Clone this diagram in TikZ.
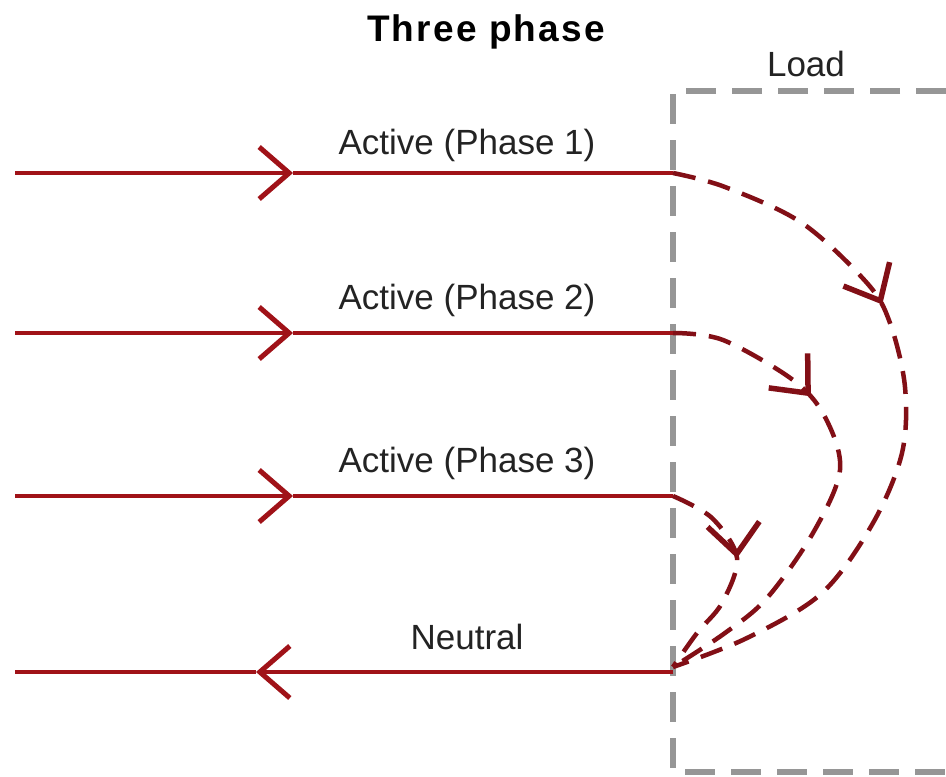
\documentclass[tikz,border=0pt]{standalone}
\usepackage{fontspec}
\setmainfont{Liberation Sans}
\newfontfamily\titlefont[LetterSpace=6]{Liberation Sans}
\usetikzlibrary{arrows.meta,decorations.markings}
\definecolor{wirec}{RGB}{160,18,24}
\definecolor{retc}{RGB}{130,15,22}
\definecolor{boxgray}{RGB}{150,150,150}
\definecolor{txtc}{RGB}{35,35,35}
\begin{document}
\begin{tikzpicture}[x=1pt,y=-1pt,
  wire/.style={draw=wirec, line width=4pt},
  barb/.style={-{Straight Barb[length=30pt,width=52pt,line width=5pt]}},
  retpath/.style={draw=retc, line width=4.5pt, dash pattern=on 23pt off 13pt,
    postaction={decorate},
    decoration={markings, mark=at position #1 with {\arrow[solid,retc]{Straight Barb[length=30pt,width=52pt,line width=5.5pt]}}}},
  boxline/.style={draw=boxgray, line width=6pt, dash pattern=on 30pt off 16pt},
  lbl/.style={text=txtc, font=\fontsize{35}{40}\selectfont, inner sep=0pt},
  ttl/.style={text=black, font=\titlefont\fontsize{37}{42}\selectfont\bfseries, inner sep=0pt}]
\useasboundingbox[fill=white] (0,0) rectangle (946,777);

% titles
\node[ttl] (title) at (486,32) {Three phase};
\node[lbl] (load) at (806,64) {Load};

% load box
\coordinate (bx1) at (946,91);
\coordinate (bx2) at (673,91);
\coordinate (bx3) at (673,772);
\coordinate (bx4) at (946,772);
\draw[boxline] (bx1) -- (bx2) -- (bx3) -- (bx4);

% wire end points
\coordinate (a1) at (15,173);  \coordinate (m1) at (293,173); \coordinate (e1) at (673,173);
\coordinate (a2) at (15,333);  \coordinate (m2) at (293,333); \coordinate (e2) at (673,333);
\coordinate (a3) at (15,496);  \coordinate (m3) at (293,496); \coordinate (e3) at (673,496);
\coordinate (a4) at (15,672);  \coordinate (m4) at (256,672); \coordinate (e4) at (673,672);
\coordinate (nin) at (673,667);

% wires
\draw[wire,barb] (a1) -- (m1); \draw[wire] (m1) -- (e1);
\draw[wire,barb] (a2) -- (m2); \draw[wire] (m2) -- (e2);
\draw[wire,barb] (a3) -- (m3); \draw[wire] (m3) -- (e3);
\draw[wire,barb] (e4) -- (m4); \draw[wire] (m4) -- (a4);

% labels
\node[lbl] (l1) at (467,145) {Active (Phase 1)};
\node[lbl] (l2) at (467,300) {Active (Phase 2)};
\node[lbl] (l3) at (467,463) {Active (Phase 3)};
\node[lbl] (l4) at (467,637) {Neutral};

% return paths through the load
\draw[retpath=0.345] plot[smooth, tension=0.55] coordinates {(e1) (725,187) (802,223) (867,283) (890,323) (905,387) (902,453) (873,523) (822,593) (747,638) (nin)};
\draw[retpath=0.31] plot[smooth, tension=0.55] coordinates {(e2) (723,340) (793,380) (825,417) (840,470) (813,533) (767,598) (725,633) (nin)};
\draw[retpath=0.42] plot[smooth, tension=0.55] coordinates {(e3) (712,518) (737,558) (722,603) (697,633) (nin)};
\end{tikzpicture}
\end{document}
